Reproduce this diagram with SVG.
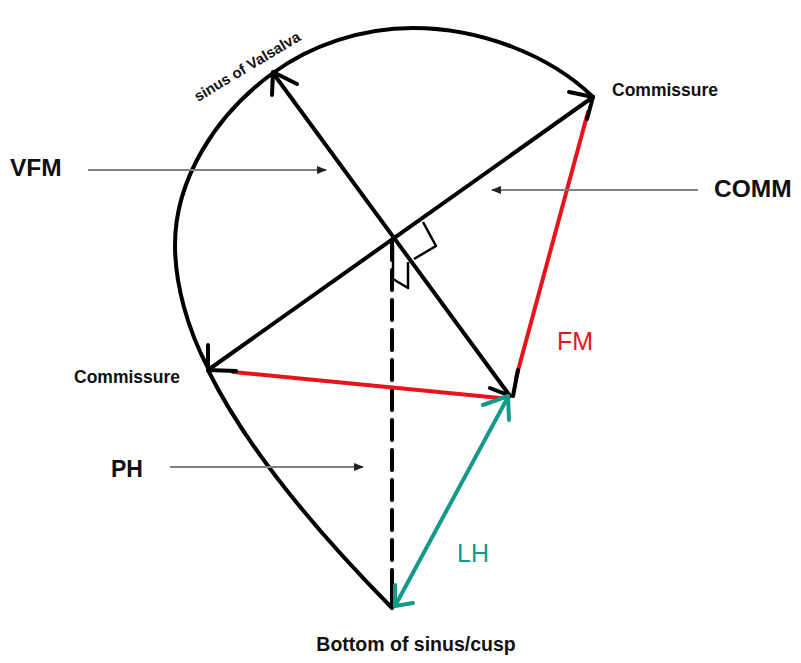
<svg xmlns="http://www.w3.org/2000/svg" width="801" height="663" viewBox="0 0 801 663">
<defs>
<marker id="gh" markerWidth="10" markerHeight="8" refX="9" refY="4" orient="auto" markerUnits="userSpaceOnUse">
<path d="M0,0 L10,4 L0,8 Z" fill="#222"/>
</marker>
<style>
.k{fill:none;stroke:#000;stroke-width:4;stroke-linecap:round;stroke-linejoin:round}
.r{fill:none;stroke:#e8141b;stroke-width:4;stroke-linecap:round}
.t{fill:none;stroke:#14998a;stroke-width:4;stroke-linecap:round;stroke-linejoin:round}
.g{fill:none;stroke:#808080;stroke-width:2}
.thin{fill:none;stroke:#000;stroke-width:2.5;stroke-linejoin:round}
.lb{font-family:"Liberation Sans",Arial,sans-serif;font-weight:bold;fill:#111}
.lr{font-family:"Liberation Sans",Arial,sans-serif}
</style>
</defs>
<rect width="801" height="663" fill="#fff"/>
<g id="connectors">
<path class="k" d="M208,368 C188,330 175,285 175,245 C175,180 215,115 273,73 C310,46 360,28 413,28 C480,28 550,55 593,97"/>
<path class="k" d="M208,370 Q258,472 392,608"/>
<path class="k" d="M208,370 L593,97"/>
<path class="k" d="M273,73 L510,396"/>
<path class="k" d="M392,240 L392,606" stroke-dasharray="20 10" stroke-linecap="butt"/>
<path class="r" d="M233,372 L500,398"/>
<path class="r" d="M588,112 L516,378"/>
<path class="t" d="M508,397 L395,606"/>
<path class="k" d="M208,345 L208,370 L236,371"/>
<path class="k" d="M569,92 L593,97 L587,119"/>
<path class="k" d="M272,95 L273,72 L297,84"/>
<path class="k" d="M490,388 L510,396"/>
<path class="k" d="M518,370 L513,396"/>
<path class="k" d="M392,583 L392,603"/>
<path class="t" d="M483,405 L508,396 L509,420"/>
<path class="t" d="M395,585 L395,606 L413,603"/>
<path class="thin" d="M423,222 L436,246 L414,259"/>
<path class="thin" d="M393,245 L393,279 L408,288 L408,262"/>
<path class="g" d="M88,170 L326,170" marker-end="url(#gh)"/>
<path class="g" d="M698,190 L492,190" marker-end="url(#gh)"/>
<path class="g" d="M170,467 L363,467" marker-end="url(#gh)"/>
</g>
<g id="sinus-label"><text class="lb" font-size="15" transform="translate(198,102) rotate(-31)">sinus of Valsalva</text></g>
<g id="commissure-right"><text class="lb" font-size="17.5" x="612" y="96">Commissure</text></g>
<g id="commissure-left"><text class="lb" font-size="17.5" x="74" y="383">Commissure</text></g>
<g id="vfm-label"><text class="lb" font-size="24.5" x="10" y="176">VFM</text></g>
<g id="comm-label"><text class="lb" font-size="24.5" x="714" y="197">COMM</text></g>
<g id="ph-label"><text class="lb" font-size="23" x="111" y="477">PH</text></g>
<g id="fm-label"><text class="lr" font-size="25" fill="#e8141b" x="557" y="350">FM</text></g>
<g id="lh-label"><text class="lr" font-size="25" fill="#14998a" x="457" y="562">LH</text></g>
<g id="bottom-label"><text class="lb" font-size="19.5" x="416" y="651" text-anchor="middle">Bottom of sinus/cusp</text></g>
</svg>
